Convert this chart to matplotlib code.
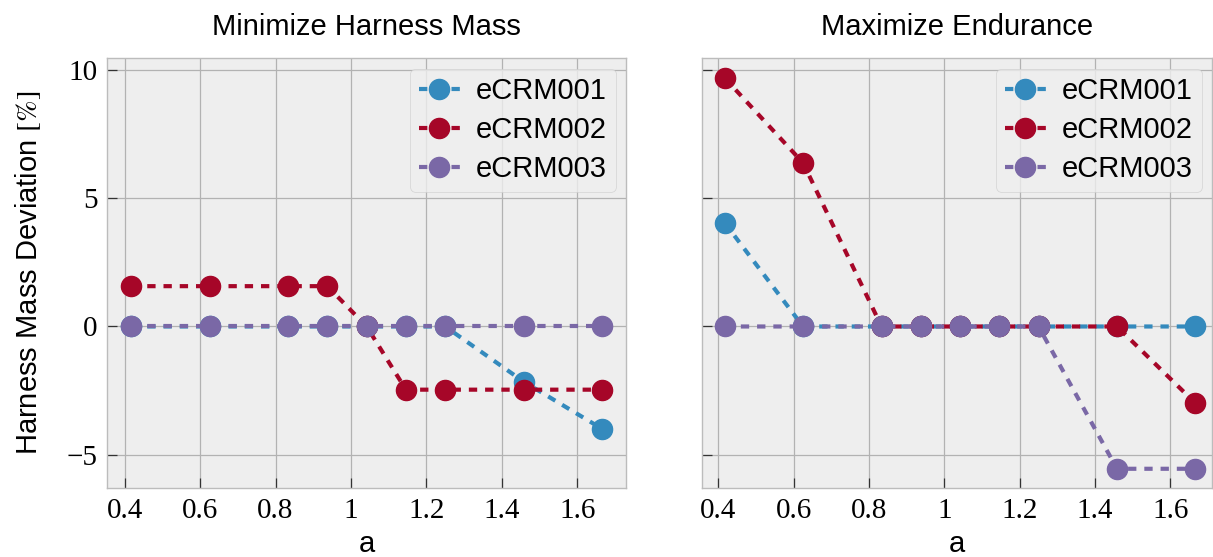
import matplotlib
matplotlib.use("Agg")
import matplotlib.pyplot as plt
from matplotlib.ticker import FuncFormatter

# data
a_vals = [0.4167, 0.625, 0.8333, 0.9375, 1.0417, 1.1458, 1.25, 1.4583, 1.6667]
series_names = ["eCRM001", "eCRM002", "eCRM003"]
titles = ["Minimize Harness Mass", "Maximize Endurance"]

mass_ecrm001 = [0, 0, 0, 0, 0, 0, 0, -2.15, -3.99]
mass_ecrm002 = [1.57, 1.57, 1.57, 1.57, 0, -2.46, -2.46, -2.46, -2.46]
mass_ecrm003 = [0, 0, 0, 0, 0, 0, 0, 0, 0]

endu_ecrm001 = [4.04, 0, 0, 0, 0, 0, 0, 0, 0]
endu_ecrm002 = [9.68, 6.37, 0, 0, 0, 0, 0, 0, -2.99]
endu_ecrm003 = [0, 0, 0, 0, 0, 0, 0, -5.54, -5.54]

colors = ["#348ABD", "#A60628", "#7A68A6"]

plt.style.use("bmh")
plt.rcParams["font.family"] = ["Liberation Sans", "DejaVu Sans"]
plt.rcParams["mathtext.fontset"] = "stix"
plt.rcParams["axes.unicode_minus"] = True

fig = plt.figure(figsize=(12.13, 5.57), dpi=100)
ax1 = fig.add_axes([0.0885, 0.1233, 0.4274, 0.772])
ax2 = fig.add_axes([0.5785, 0.1233, 0.4205, 0.772], sharey=ax1)

panels = [
    (ax1, [mass_ecrm001, mass_ecrm002, mass_ecrm003], (0.354, 1.729)),
    (ax2, [endu_ecrm001, endu_ecrm002, endu_ecrm003], (0.356, 1.71)),
]

for (ax, data, xlim), title in zip(panels, titles):
    ax.set_facecolor("#eeeeee")
    for vals, name, c in zip(data, series_names, colors):
        line, = ax.plot(a_vals, vals, linestyle="--", color=c, lw=3.0,
                        marker="o", markersize=14.5, label=name)
        line.set_dashes((2.0, 1.9))
    ax.set_xlim(*xlim)
    ax.set_xticks([0.4, 0.6, 0.8, 1.0, 1.2, 1.4, 1.6])
    ax.set_yticks([-5, 0, 5, 10])
    ax.xaxis.set_major_formatter(FuncFormatter(lambda v, p: "%g" % v))
    ax.grid(True, color="#b2b2b2", lw=0.9, linestyle="-")
    ax.set_axisbelow(True)
    for sp in ax.spines.values():
        sp.set_color("#bcbcbc")
        sp.set_linewidth(1.0)
    ax.tick_params(direction="in", length=7.5, width=0.9, color="#333333",
                   labelsize=21, top=False, right=False, pad=7)
    for lab in ax.get_xticklabels() + ax.get_yticklabels():
        lab.set_family(["Liberation Serif", "DejaVu Serif"])
    ax.set_title(title, fontsize=21, pad=17)
    ax.set_xlabel("a", fontsize=21, labelpad=4)
    leg = ax.legend(loc="upper right", fontsize=21, frameon=True,
                    facecolor="#eeeeee", edgecolor="#cccccc", framealpha=0.8,
                    borderaxespad=0.35, handlelength=1.4, borderpad=0.3,
                    labelspacing=0.38, handletextpad=0.55)

ax1.set_ylabel(r"Harness Mass Deviation $[\%]$", fontsize=21, labelpad=17)
plt.setp(ax2.get_yticklabels(), visible=False)

fig.savefig("out.png", dpi=100)
